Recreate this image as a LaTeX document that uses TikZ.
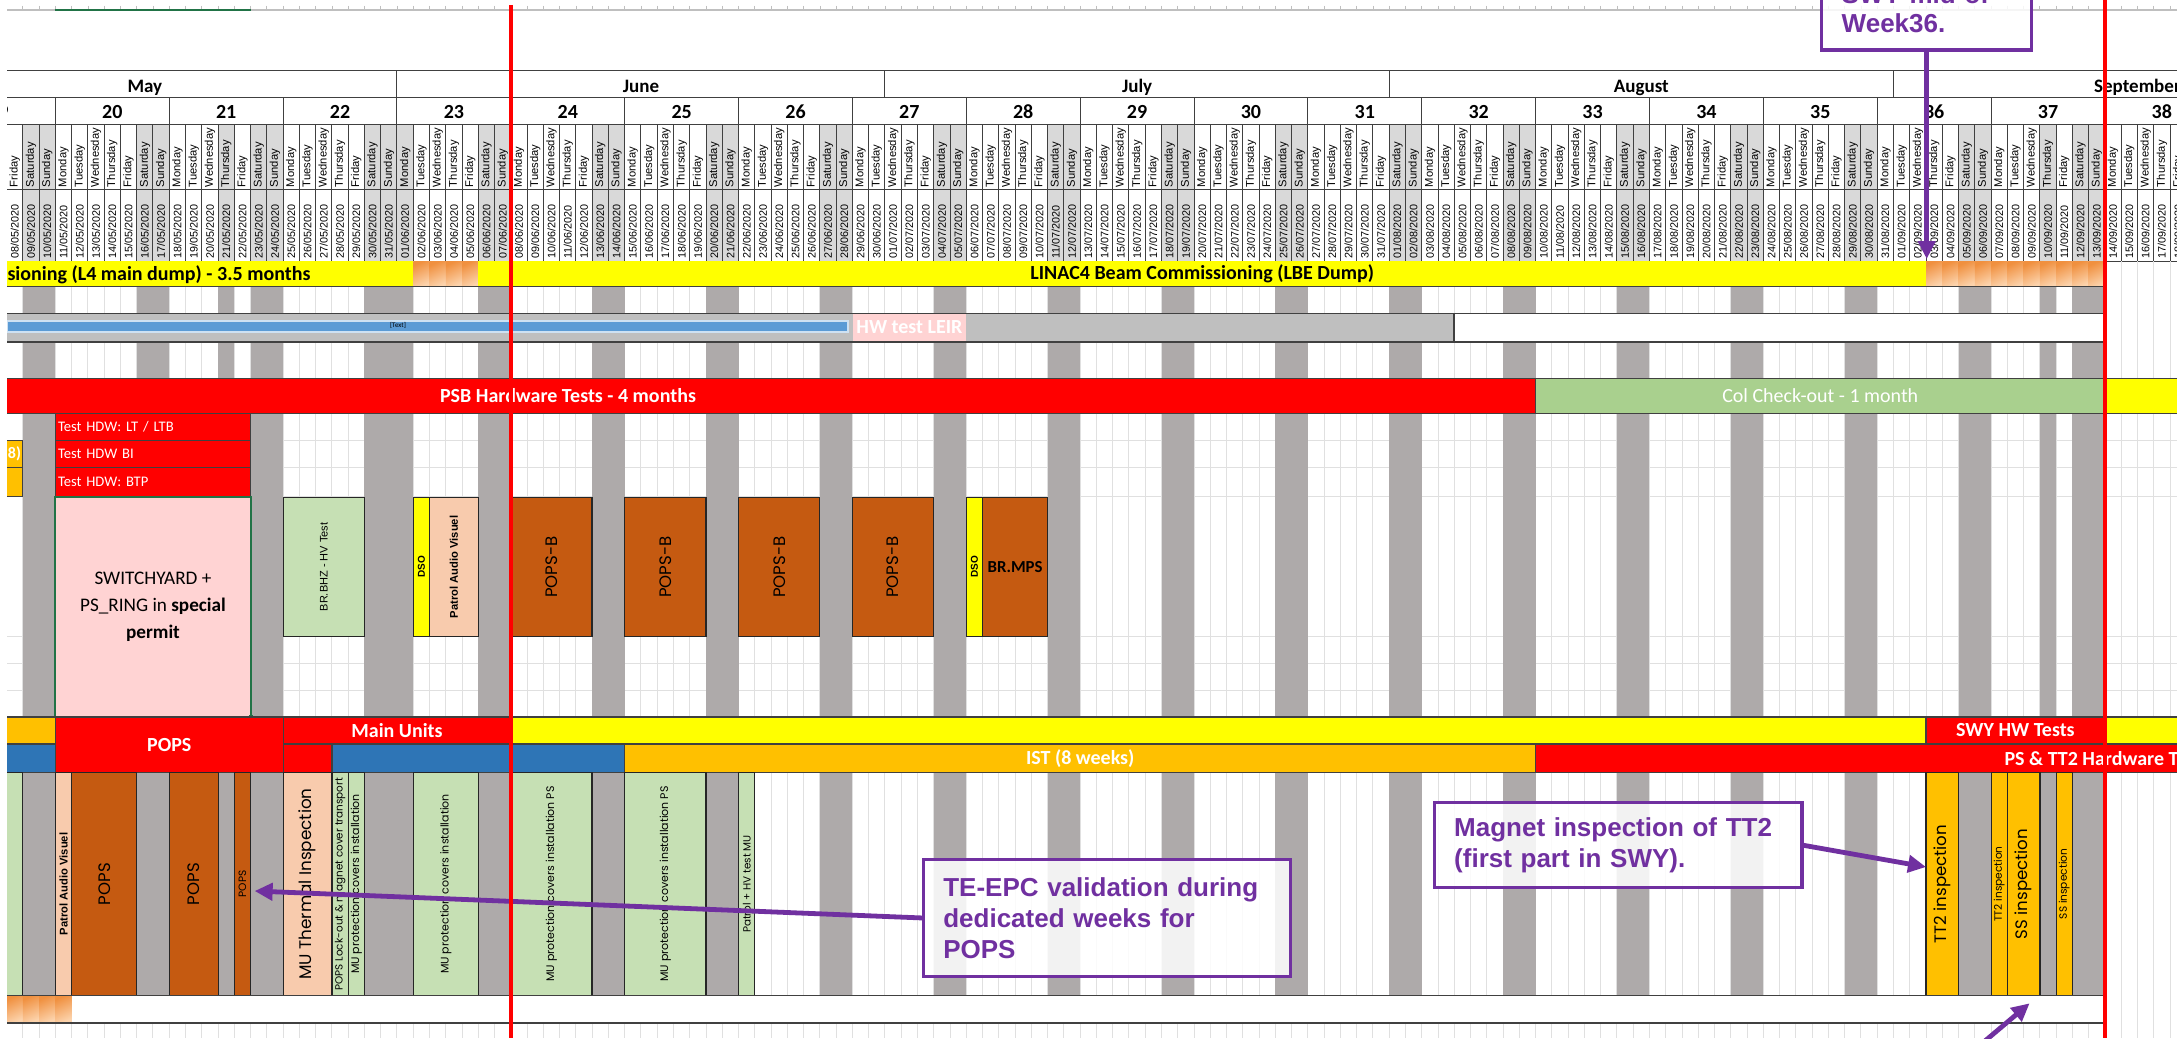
\documentclass[tikz,border=0pt]{standalone}
\usepackage{fontspec}
\usepackage{graphicx}
\setmainfont{Carlito}
\newfontfamily\arialfont{Liberation Sans}
\newfontfamily\gothfont{Poppins}
\usetikzlibrary{arrows.meta}

\definecolor{xyellow}{HTML}{FFFF00}
\definecolor{xred}{HTML}{FF0000}
\definecolor{xgreen}{HTML}{A9D08E}
\definecolor{xpale}{HTML}{C6E0B4}
\definecolor{xpeach}{HTML}{F8CBAD}
\definecolor{xbrown}{HTML}{C55A11}
\definecolor{xorange}{HTML}{FFC000}
\definecolor{xblue}{HTML}{2E75B6}
\definecolor{xsky}{HTML}{5B9BD5}
\definecolor{xstripe}{HTML}{AEAAAA}
\definecolor{xhead}{HTML}{D9D9D9}
\definecolor{xsilver}{HTML}{BFBFBF}
\definecolor{xpink}{HTML}{FFD3D3}
\definecolor{xpurple}{HTML}{7030A0}
\definecolor{xgrid}{HTML}{E0E0E0}
\definecolor{xborder}{HTML}{404040}
\definecolor{xsel}{HTML}{217346}
\definecolor{xglow}{HTML}{F0903F}
\definecolor{xglowlt}{HTML}{FCD3AC}

% x position (px) of the left edge of day n, n=0 is Monday 11/05/2020
\newcommand\dayx[1]{55.4+16.266*(#1)}

\begin{document}
\begin{tikzpicture}[x=0.5pt,y=-0.5pt,inner sep=0pt,outer sep=0pt,
cell/.style={draw=xborder,line width=0.5pt},
rowline/.style={draw=xborder,line width=0.8pt},
gridline/.style={draw=xgrid,line width=0.5pt},
bar/.style={draw=xborder,line width=0.6pt},
task/.style={draw=black!85,line width=0.6pt},
bartext/.style={text=white,font=\bfseries\fontsize{10}{12}\selectfont},
dayname/.style={rotate=90,anchor=west,font=\arialfont\fontsize{5.6}{6}\selectfont},
datename/.style={rotate=90,anchor=west,font=\arialfont\fontsize{5.4}{6}\selectfont},
hdw/.style={bar,fill=xred,text=white,minimum width=97.6pt,text width=95pt,align=left,font=\fontsize{7.3}{8}\selectfont},
gradcell/.style={top color=xglow,bottom color=xglowlt,shading angle=25},
vbig/.style={font=\gothfont\fontsize{8.3}{9}\selectfont},
vsmall/.style={font=\gothfont\fontsize{5.5}{6}\selectfont},
varial/.style={font=\arialfont\fontsize{5.5}{6}\selectfont},
vbold/.style={font=\arialfont\bfseries\fontsize{5.6}{6}\selectfont},
callout/.style={draw=xpurple,line width=1.7pt,fill=white,fill opacity=.85,text opacity=1,text=xpurple,align=left,inner xsep=10pt,font=\arialfont\bfseries\fontsize{13}{15.5}\selectfont},
pointer/.style={draw=xpurple,line width=2.4pt,-{Triangle[length=9pt,width=8.5pt]}},
redline/.style={draw=xred,line width=2.2pt}]
\useasboundingbox (0,0) rectangle (2177,1038);
\fill[white] (0,0) rectangle (2177,1038);
\begin{scope}
\clip (7,0) rectangle (2177,1038);
% sheet top
\draw[xsilver,line width=0.6pt] (7,10) -- (2177,10);
\foreach \dn in {-3,...,131} \draw[xsilver,line width=0.4pt] ({\dayx{\dn}},6) -- ++(0,4);
\draw[xsel,line width=1.2pt] (54.6,10) -- (251,10);

% header: days and dates
\foreach \dn in {-3,...,130}{
  \pgfmathtruncatemacro\wkd{mod(\dn+7,7)}
  \pgfmathtruncatemacro\isoff{(\wkd>4)||(\dn==10)||(\dn==21)||(\dn==122)}
  \ifnum\isoff=1 \fill[xhead] ({\dayx{\dn}},124.3) rectangle ({\dayx{\dn+1}},261); \fi
  \ifnum\dn<21 \pgfmathtruncatemacro\dnum{\dn+11}\def\mnum{05}\else
   \ifnum\dn<51 \pgfmathtruncatemacro\dnum{\dn-20}\def\mnum{06}\else
    \ifnum\dn<82 \pgfmathtruncatemacro\dnum{\dn-50}\def\mnum{07}\else
     \ifnum\dn<113 \pgfmathtruncatemacro\dnum{\dn-81}\def\mnum{08}\else
      \pgfmathtruncatemacro\dnum{\dn-112}\def\mnum{09}\fi\fi\fi\fi
  \node[dayname] at ({\dayx{\dn+0.5}},187) {\ifcase\wkd Monday\or Tuesday\or Wednesday\or Thursday\or Friday\or Saturday\or Sunday\fi};
  \node[datename] at ({\dayx{\dn+0.5}},258.5) {\ifnum\dnum<10 0\fi\dnum/\mnum/2020};
}
\foreach \dn in {-3,...,131} \draw[cell] ({\dayx{\dn}},124.3) -- ({\dayx{\dn}},261);
\foreach \wk in {19,...,39} \draw[cell] ({\dayx{7*(\wk-20)}},97.7) -- ++(0,26.6);
\foreach \mb in {21,51,82,113} \draw[cell] ({\dayx{\mb}},71) -- ++(0,26.7);
\foreach \yy in {71,97.7,124.3,189.3,261} \draw[cell] (7,\yy) -- (2177,\yy);
\foreach \ma/\mb/\mon in {-10/21/May,21/51/June,51/82/July,82/113/August,113/143/September}
  \node[anchor=base,font=\bfseries\fontsize{9.5}{11}\selectfont] at ({\dayx{(\ma+\mb)/2}},92.5) {\mon};
\foreach \wk in {19,...,38}
  \node[anchor=base,font=\bfseries\fontsize{10}{12}\selectfont] at ({\dayx{7*(\wk-20)+3.5}},118.3) {\wk};

% body grid and weekend stripes
\foreach \dn in {-3,...,131} \draw[gridline] ({\dayx{\dn}},261) -- ({\dayx{\dn}},1038);
\foreach \yy in {440.7,467.3,496.7,636.7,663.3,690} \draw[gridline] (7,\yy) -- (2177,\yy);
\foreach \dn in {-3,...,125}{
  \pgfmathtruncatemacro\wkd{mod(\dn+7,7)}
  \pgfmathtruncatemacro\isoff{(\wkd>4)||(\dn==10)||(\dn==21)||(\dn==122)}
  \ifnum\isoff=1
    \fill[xstripe] ({\dayx{\dn}},286.7) rectangle ({\dayx{\dn+1}},313.3);
    \fill[xstripe] ({\dayx{\dn}},341.7) rectangle ({\dayx{\dn+1}},378.3);
    \fill[xstripe] ({\dayx{\dn}},413.3) rectangle ({\dayx{\dn+1}},716.7);
    \fill[xstripe] ({\dayx{\dn}},772.7) rectangle ({\dayx{\dn+1}},995.3);
  \fi}

% LINAC4 row
\node[fill=xyellow,minimum width=203.3pt,minimum height=12.85pt] (l4dump) at (209.9,273.85) {};
\node[anchor=west,font=\bfseries\fontsize{10}{12}\selectfont] (l4text) at (7.5,274.5) {sioning (L4 main dump) - 3.5 months};
\foreach \dn in {22,...,25} \shade[gradcell] ({\dayx{\dn}},261.4) rectangle ({\dayx{\dn+1}},286.7);
\foreach \dn in {115,...,125} \shade[gradcell] ({\dayx{\dn}},261.4) rectangle ({\dayx{\dn+1}},286.7);
\node[fill=xyellow,minimum width=723.8pt,minimum height=12.85pt,font=\bfseries\fontsize{10}{12}\selectfont] (linacbar) at (1202.2,273.85) {LINAC4 Beam Commissioning (LBE Dump)};
\draw[cell] (7,286.7) -- (2104.9,286.7);

% LEIR row
\node[fill=xsilver,minimum width=723.85pt,minimum height=14.2pt] (leirrow) at (730.45,327.5) {};
\node[fill=white,minimum width=325.3pt,minimum height=14.2pt] (leirfree) at (1779.6,327.5) {};
\node[fill=xsky,draw=white!70!xsky,line width=0.9pt,minimum width=420.6pt,minimum height=5.5pt] (leirbar) at (427.2,326.2) {};
\node[font=\fontsize{3.5}{4}\selectfont] (leirtag) at (398,325.7) {[Text]};
\node[fill=xpink,minimum width=56.9pt,minimum height=14.2pt,bartext] (leirhw) at (909.4,327.5) {HW test LEIR};
\draw[rowline] (7,313.3) -- (2104.9,313.3) (7,341.7) -- (2104.9,341.7);
\draw[rowline] ({\dayx{86}},313.3) -- ({\dayx{86}},341.7);

% PSB row
\node[bar,fill=xred,minimum width=764.5pt,minimum height=17.5pt] (psbbar) at (771.1,395.8) {};
\node[bartext] (psbtext) at (568,395.8) {PSB Hardware Tests - 4 months};
\node[bar,fill=xgreen,minimum width=284.65pt,minimum height=17.5pt,text=white,font=\fontsize{10}{12}\selectfont] (colbar) at (1820.25,395.8) {Col Check-out - 1 month};
\node[bar,fill=xyellow,minimum width=65pt,minimum height=17.5pt] (psbyel) at (2170,395.8) {};

% tests May/June
\node[bar,fill=xorange,minimum width=8.13pt,minimum height=13.3pt] (istleft) at (14.7,454) {};
\node[anchor=east,text=white,font=\bfseries\fontsize{8}{9}\selectfont] (istend) at (21,454) {8)};
\node[bar,fill=xorange,minimum width=8.13pt,minimum height=14.7pt] (istleftb) at (14.7,482) {};
\node[hdw,minimum height=13.7pt] (hdwlt) at (153,427) {Test HDW: LT / LTB};
\node[hdw,minimum height=13.3pt] (hdwbi) at (153,454) {Test HDW BI};
\node[hdw,minimum height=14.7pt] (hdwbtp) at (153,482) {Test HDW: BTP};
\node[fill=xpink,draw=xsel,line width=1pt,minimum width=97.6pt,minimum height=110pt,align=center,font=\fontsize{9.6}{13.3}\selectfont] (swyard) at (153,606.7) {SWITCHYARD +\\PS\_RING in \textbf{special}\\\textbf{permit}};
\fill[xsel] (248.5,714.6) rectangle (252.7,718.8);

\node[task,fill=xpale,minimum width=40.67pt,minimum height=69.7pt,varial] (brbhz) at (323.8,567) {\rotatebox{90}{BR.BHZ - HV Test}};
\node[task,fill=xyellow,minimum width=8.13pt,minimum height=69.7pt,font=\arialfont\bfseries\fontsize{5}{6}\selectfont] (dsoa) at (421.4,567) {\rotatebox{90}{DSO}};
\node[task,fill=xpeach,minimum width=24.4pt,minimum height=69.7pt,vbold] (patrola) at (453.9,567) {\rotatebox{90}{Patrol Audio Visuel}};
\node[task,fill=xbrown,minimum width=40.67pt,minimum height=69.7pt,vbig] (popsb1) at (551.4,567) {\rotatebox{90}{POPS-B}};
\node[task,fill=xbrown,minimum width=40.67pt,minimum height=69.7pt,vbig] (popsb2) at (665.4,567) {\rotatebox{90}{POPS-B}};
\node[task,fill=xbrown,minimum width=40.67pt,minimum height=69.7pt,vbig] (popsb3) at (779.2,567) {\rotatebox{90}{POPS-B}};
\node[task,fill=xbrown,minimum width=40.67pt,minimum height=69.7pt,vbig] (popsb4) at (893.1,567) {\rotatebox{90}{POPS-B}};
\node[task,fill=xyellow,minimum width=8.13pt,minimum height=69.7pt,font=\arialfont\bfseries\fontsize{5}{6}\selectfont] (dsob) at (974.4,567) {\rotatebox{90}{DSO}};
\node[task,fill=xbrown,minimum width=32.53pt,minimum height=69.7pt,font=\bfseries\fontsize{8.4}{10}\selectfont] (brmps) at (1015.1,567) {BR.MPS};

% POPS / Main Units / IST rows
\node[bar,fill=xorange,minimum width=24.4pt,minimum height=13.5pt] (oraf) at (31,730.5) {};
\node[bar,fill=xblue,minimum width=24.4pt,minimum height=14.35pt] (blug) at (31,758.35) {};
\node[bar,fill=xred,minimum width=113.9pt,minimum height=27.85pt,bartext] (popsbar) at (169.3,744.85) {POPS};
\node[bar,fill=xred,minimum width=113.9pt,minimum height=13.5pt,bartext] (mainunits) at (397,730.5) {Main Units};
\node[bar,fill=xyellow,minimum width=707.6pt,minimum height=13.5pt] (yelf) at (1218.4,730.5) {};
\node[bar,fill=xred,minimum width=89.5pt,minimum height=13.5pt,bartext] (swyhw) at (2015.4,730.5) {SWY HW Tests};
\node[bar,fill=xyellow,minimum width=65pt,minimum height=13.5pt] (yelf2) at (2170,730.5) {};
\node[bar,fill=xred,minimum width=24.4pt,minimum height=14.35pt] (redg) at (307.5,758.35) {};
\node[bar,fill=xblue,minimum width=146.4pt,minimum height=14.35pt] (blug2) at (478.3,758.35) {};
\node[bar,fill=xorange,minimum width=455.45pt,minimum height=14.35pt,bartext] (ist) at (1080.2,758.35) {IST (8 weeks)};
\node[bar,fill=xred,minimum width=349.7pt,minimum height=14.35pt] (pstt) at (1885.3,758.35) {};
\node[bartext,anchor=west] (psttext) at (2004.5,758.35) {PS \& TT2 Hardware Tests};

\node[task,fill=xpale,minimum width=8.13pt,minimum height=111.3pt] (leftgr) at (14.7,884) {};
\node[task,fill=xpeach,minimum width=8.13pt,minimum height=111.3pt,vbold] (patrolb) at (63.5,884) {\rotatebox{90}{Patrol Audio Visuel}};
\node[task,fill=xbrown,minimum width=32.53pt,minimum height=111.3pt,vbig] (pops1) at (104.2,884) {\rotatebox{90}{POPS}};
\node[task,fill=xbrown,minimum width=24.4pt,minimum height=111.3pt,vbig] (pops2) at (193.7,884) {\rotatebox{90}{POPS}};
\node[task,fill=xbrown,minimum width=8.13pt,minimum height=111.3pt,font=\gothfont\fontsize{5.3}{6}\selectfont] (pops3) at (242.5,884) {\rotatebox{90}{POPS}};
\node[task,fill=xpeach,minimum width=24.4pt,minimum height=111.3pt,font=\gothfont\fontsize{8.4}{9}\selectfont] (muth) at (307.5,884) {\rotatebox{90}{MU Thermal Inspection}};
\node[task,fill=xpale,minimum width=8.13pt,minimum height=111.3pt,font=\gothfont\fontsize{5.2}{6}\selectfont] (lockout) at (340.1,884) {\rotatebox{90}{POPS Lock-out \& magnet cover transport}};
\node[task,fill=xpale,minimum width=8.13pt,minimum height=111.3pt,vsmall] (muprot1) at (356.3,884) {\rotatebox{90}{MU protection covers installation}};
\node[task,fill=xpale,minimum width=32.53pt,minimum height=111.3pt,vsmall] (muprot2) at (445.8,884) {\rotatebox{90}{MU protection covers installation}};
\node[task,fill=xpale,minimum width=40.67pt,minimum height=111.3pt,vsmall] (muprot3) at (551.4,884) {\rotatebox{90}{MU protection covers installation PS}};
\node[task,fill=xpale,minimum width=40.67pt,minimum height=111.3pt,vsmall] (muprot4) at (665.4,884) {\rotatebox{90}{MU protection covers installation PS}};
\node[task,fill=xpale,minimum width=8.13pt,minimum height=111.3pt,font=\gothfont\fontsize{5.2}{6}\selectfont] (patrolhv) at (746.7,884) {\rotatebox{90}{Patrol + HV test MU}};
\node[task,fill=xorange,minimum width=16.27pt,minimum height=111.3pt,vbig] (tt2a) at (1942.3,884) {\rotatebox{90}{TT2 inspection}};
\node[task,fill=xorange,minimum width=8.13pt,minimum height=111.3pt,font=\gothfont\fontsize{5.3}{6}\selectfont] (tt2b) at (1999.2,884) {\rotatebox{90}{TT2 inspection}};
\node[task,fill=xorange,minimum width=16.27pt,minimum height=111.3pt,vbig] (ssa) at (2023.6,884) {\rotatebox{90}{SS inspection}};
\node[task,fill=xorange,minimum width=8.13pt,minimum height=111.3pt,font=\gothfont\fontsize{5.3}{6}\selectfont] (ssb) at (2064.2,884) {\rotatebox{90}{SS inspection}};

% last row
\fill[white] ({\dayx{1}},995.3) rectangle (2104.9,1022.7);
\foreach \dn in {-3,...,0} \shade[gradcell] ({\dayx{\dn}},995.3) rectangle ({\dayx{\dn+1}},1022.7);
\draw[rowline] (7,995.3) -- (2104.9,995.3) (7,1022.7) -- (2104.9,1022.7);

% callouts
\node[callout,anchor=south,minimum width=105pt,text width=85pt,inner ysep=8.8pt,font=\arialfont\bfseries\fontsize{13}{14.5}\selectfont] (weekcall) at (1926.7,50) {SWY mid of\\Week36.};
\coordinate (wk36) at (1926.7,259);
\draw[pointer] (weekcall.south) -- (wk36);
\node[callout,minimum width=183.5pt,minimum height=58.7pt,text width=163.5pt] (tecall) at (1106.8,918) {TE-EPC validation during\\dedicated weeks for\\POPS};
\draw[pointer] (tecall.west) -- ([shift={(4,7)}]pops3.east);
\node[callout,minimum width=183.65pt,minimum height=42.7pt,text width=164pt,inner xsep=9.7pt] (magcall) at (1618.2,845) {Magnet inspection of TT2\\(first part in SWY).};
\draw[pointer] (magcall.east) -- ([shift={(0,-17)}]tt2a.west);
\coordinate (offtail) at (1960,1062);
\draw[pointer] (offtail) -- ([shift={(6,8)}]ssa.south);

% today / end markers
\draw[redline] (511.2,5) -- (511.2,1038);
\draw[redline] (2105,0) -- (2105,1038);
\end{scope}
\end{tikzpicture}
\end{document}
